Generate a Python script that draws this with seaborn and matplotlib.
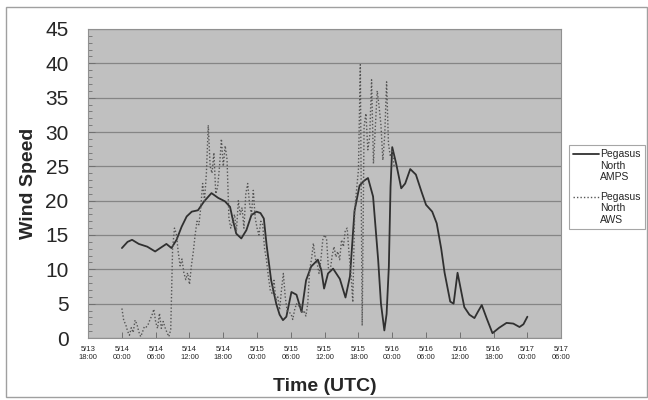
import pandas as pd
import seaborn as sns
import matplotlib.pyplot as plt
import matplotlib.dates as mdates
from matplotlib.patches import Rectangle
from matplotlib.ticker import MultipleLocator

# AMPS model output: hours after 5/14 00:00 and wind speed
amps_hours = [0, 1, 1.8, 3, 4.5, 5.9, 6.8, 7.9, 8.8, 9.7, 10.6, 11.5, 12.4, 13.5,
              14.6, 15.9, 17.1, 18.3, 19.2, 19.7, 20.3, 21.2, 22.1, 23, 23.9, 24.6,
              25.2, 25.7, 26.5, 27.4, 28.0, 28.6, 29.2, 30.1, 31, 31.9, 32.7, 33.6, 34.8,
              35.4, 35.9, 36.6, 37.5, 38.7, 39.7, 40.5, 41.3, 42.2, 43.0, 43.7, 44.6, 45.5,
              46.0, 46.6, 47.0, 47.4, 47.7, 48, 48.7, 49.6, 50.3, 51.2, 52.2, 53.2, 54,
              55.1, 55.9, 56.7, 57.3, 58.3, 58.9, 59.6, 60.2, 60.8, 61.7, 62.6, 63.2,
              63.9, 64.8, 65.8, 67.0, 68.3, 69.5, 70.6, 71.3, 72]
amps_speed = [13.1, 14.0, 14.3, 13.7, 13.3, 12.6, 13.1, 13.7, 13.1, 14.3, 16.2, 17.7, 18.4, 18.6,
              19.9, 21.1, 20.4, 19.9, 19.1, 17.2, 15.2, 14.5, 15.7, 17.9, 18.4, 18.2,
              17.4, 13.5, 8.4, 5.0, 3.4, 2.6, 3.1, 6.7, 6.3, 3.8, 8.4, 10.4, 11.4,
              9.9, 7.2, 9.4, 10.1, 8.6, 5.9, 9.0, 18.5, 22.2, 22.9, 23.3, 20.6, 11.4,
              5.0, 1.1, 3.5, 10.4, 22.0, 27.8, 25.4, 21.8, 22.5, 24.6, 23.8, 21.3, 19.4,
              18.4, 16.7, 13.0, 9.5, 5.3, 5.0, 9.5, 7.0, 4.5, 3.4, 2.9, 3.8,
              4.8, 2.8, 0.7, 1.5, 2.2, 2.1, 1.6, 2.0, 3.1]

# AWS observations, every 20 minutes from 5/14 00:00
aws_speed = [4.3, 2.5, 2.0, 1.0, 0.4, 1.5, 0.8, 2.6, 2.0, 0.9,
             0.2, 0.9, 1.7, 1.6, 2.0, 2.7, 3.3, 4.2, 2.3, 1.4,
             3.6, 1.4, 2.4, 1.5, 0.8, 0.2, 1.2, 13.0, 16.0, 15.2,
             12.5, 10.5, 11.5, 9.5, 8.5, 9.5, 7.8, 10.5, 12.5, 15.0,
             17.0, 16.5, 19.0, 22.5, 20.0, 24.0, 31.0, 25.0, 24.0, 27.0,
             21.0, 22.0, 25.0, 29.0, 25.0, 28.0, 26.0, 17.5, 16.0, 17.0,
             18.0, 15.5, 20.0, 18.0, 19.0, 16.0, 21.0, 22.5, 19.5, 18.0,
             21.5, 17.5, 16.0, 15.0, 17.0, 16.5, 13.0, 11.4, 9.0, 7.0,
             6.5, 8.4, 5.5, 6.0, 4.1, 7.0, 9.4, 6.0, 4.0, 3.7,
             3.6, 2.7, 4.1, 5.0, 4.6, 5.0, 3.6, 4.0, 3.2, 5.0,
             9.9, 11.5, 13.8, 11.6, 10.9, 9.4, 11.4, 14.3, 15.0, 14.5,
             10.2, 9.9, 12.0, 13.3, 11.8, 12.6, 11.4, 14.3, 13.3, 15.7,
             16.0, 12.3, 9.4, 5.2, 18.6, 21.5, 24.5, 39.8, 1.8, 30.8,
             32.7, 27.4, 29.3, 37.6, 25.4, 30.8, 36.0, 33.7, 31.0, 25.9,
             29.5, 37.3, 28.3, 26.4, 27.4, 25.0]

start = pd.Timestamp('2011-05-14 00:00')
amps = pd.DataFrame({'time': start + pd.to_timedelta(amps_hours, unit='h'),
                     'speed': amps_speed})
aws = pd.DataFrame({'time': pd.date_range(start, periods=len(aws_speed), freq='20min'),
                    'speed': aws_speed})

sns.set_style('white')
plt.rcParams['font.family'] = ['Liberation Sans', 'DejaVu Sans']

fig = plt.figure(figsize=(6.48, 4.0), dpi=100)
ax = fig.add_axes([0.136, 0.155, 0.730, 0.7725])
ax.set_facecolor('#c0c0c0')

sns.lineplot(data=amps, x='time', y='speed', ax=ax, color='#303030', lw=1.3,
             label='Pegasus\nNorth\nAMPS')
sns.lineplot(data=aws, x='time', y='speed', ax=ax, color='#555555', lw=1.0,
             linestyle=(0, (1, 1.5)), label='Pegasus\nNorth\nAWS')

ax.set_xlim(pd.Timestamp('2011-05-13 18:00'), pd.Timestamp('2011-05-17 06:00'))
ax.set_ylim(0, 45)
ax.yaxis.set_major_locator(MultipleLocator(5))
ax.yaxis.set_minor_locator(MultipleLocator(1))
ax.xaxis.set_major_locator(mdates.HourLocator(byhour=[0, 6, 12, 18]))
ax.xaxis.set_major_formatter(mdates.DateFormatter('%-m/%d\n%H:%M'))
ax.grid(axis='y', which='major', color='#858585', lw=0.9)
ax.tick_params(axis='y', which='major', labelsize=15, direction='in', length=5,
               color='#707070', width=0.7, pad=14, left=True)
ax.tick_params(axis='y', which='minor', direction='in', length=3, color='#707070',
               width=0.6, left=True)
ax.tick_params(axis='x', labelsize=5.5, direction='in', length=4, color='#707070',
               width=0.7, pad=6, bottom=True)
for s in ax.spines.values():
    s.set_color('#909090')
    s.set_linewidth(0.8)

ax.set_xlabel('Time (UTC)', fontsize=14, fontweight='bold', labelpad=12)
ax.set_ylabel('Wind Speed', fontsize=14, fontweight='bold', labelpad=6)

leg = ax.legend(loc='upper left', bbox_to_anchor=(1.016, 0.625), fontsize=7.5,
                frameon=True, fancybox=False, handlelength=2.5, labelspacing=0.9,
                handletextpad=0.1, borderpad=0.4, borderaxespad=0)
leg.get_frame().set_edgecolor('#909090')
leg.get_frame().set_linewidth(0.8)
# put each legend line at the level of the first text line
for line in leg.get_lines():
    line.set_ydata([y + 8.5 for y in line.get_ydata()])

fig.patches.append(Rectangle((0.009, 0.008), 0.989, 0.975, transform=fig.transFigure,
                             fill=False, edgecolor='#a0a0a0', lw=1.0))

fig.savefig('out.png', dpi=100)
